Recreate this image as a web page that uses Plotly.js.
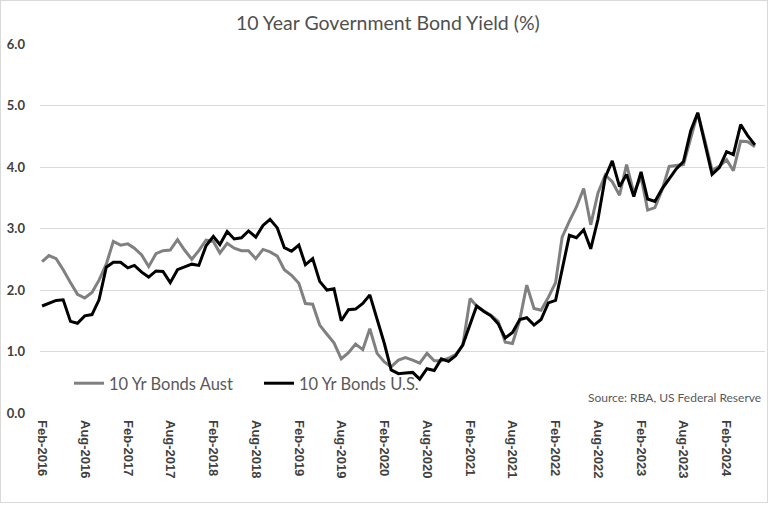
<!DOCTYPE html>
<html>
<head>
<meta charset="utf-8">
<script src="https://cdn.plot.ly/plotly-3.0.1.min.js"></script>
<style>
  html, body { margin: 0; padding: 0; background: #ffffff; }
  #chart { position: absolute; left: 0; top: 0; width: 766px; height: 501px; border: 1px solid #d9d9d9; }
</style>
</head>
<body>
<div id="chart"></div>
<script>
// Month of each observation (end-of-month yields)
const months = [
  "2016-02","2016-03","2016-04","2016-05","2016-06","2016-07","2016-08","2016-09","2016-10","2016-11","2016-12",
  "2017-01","2017-02","2017-03","2017-04","2017-05","2017-06","2017-07","2017-08","2017-09","2017-10","2017-11","2017-12",
  "2018-01","2018-02","2018-03","2018-04","2018-05","2018-06","2018-07","2018-08","2018-09","2018-10","2018-11","2018-12",
  "2019-01","2019-02","2019-03","2019-04","2019-05","2019-06","2019-07","2019-08","2019-09","2019-10","2019-11","2019-12",
  "2020-01","2020-02","2020-03","2020-04","2020-05","2020-06","2020-07","2020-08","2020-09","2020-10","2020-11","2020-12",
  "2021-01","2021-02","2021-03","2021-04","2021-05","2021-06","2021-07","2021-08","2021-09","2021-10","2021-11","2021-12",
  "2022-01","2022-02","2022-03","2022-04","2022-05","2022-06","2022-07","2022-08","2022-09","2022-10","2022-11","2022-12",
  "2023-01","2023-02","2023-03","2023-04","2023-05","2023-06","2023-07","2023-08","2023-09","2023-10","2023-11","2023-12",
  "2024-01","2024-02","2024-03","2024-04","2024-05","2024-06"
];

const bondsAust = [
  2.46,2.56,2.51,2.33,2.12,1.93,1.87,1.96,2.16,2.42,2.79,
  2.73,2.75,2.68,2.57,2.38,2.59,2.64,2.65,2.82,2.65,2.50,2.64,
  2.81,2.79,2.60,2.76,2.68,2.64,2.64,2.51,2.66,2.62,2.55,2.33,
  2.24,2.11,1.78,1.77,1.43,1.28,1.14,0.88,0.98,1.12,1.03,1.37,
  0.97,0.83,0.75,0.86,0.90,0.86,0.81,0.97,0.85,0.85,0.89,0.95,
  1.10,1.86,1.74,1.66,1.59,1.49,1.15,1.13,1.51,2.08,1.70,1.67,
  1.88,2.12,2.86,3.12,3.35,3.65,3.06,3.58,3.87,3.76,3.54,4.04,
  3.58,3.84,3.30,3.34,3.62,4.01,4.03,4.04,4.47,4.88,4.42,3.95,
  4.01,4.12,3.94,4.42,4.41,4.33
];

const bondsUS = [
  1.74,1.78,1.83,1.84,1.49,1.46,1.58,1.60,1.84,2.37,2.45,
  2.45,2.36,2.40,2.29,2.21,2.31,2.30,2.12,2.33,2.38,2.42,2.40,
  2.72,2.87,2.74,2.95,2.83,2.85,2.96,2.86,3.05,3.15,3.01,2.69,
  2.63,2.73,2.41,2.51,2.14,2.00,2.02,1.50,1.68,1.69,1.78,1.92,
  1.51,1.13,0.70,0.64,0.65,0.66,0.55,0.72,0.69,0.88,0.84,0.93,
  1.11,1.44,1.74,1.65,1.58,1.45,1.22,1.31,1.52,1.55,1.43,1.52,
  1.79,1.83,2.32,2.89,2.85,2.98,2.67,3.15,3.83,4.10,3.68,3.88,
  3.52,3.92,3.48,3.44,3.64,3.81,3.97,4.09,4.59,4.88,4.37,3.88,
  3.99,4.25,4.20,4.69,4.51,4.36
];

const tickDates = [
  "2016-02","2016-08","2017-02","2017-08","2018-02","2018-08","2019-02","2019-08",
  "2020-02","2020-08","2021-02","2021-08","2022-02","2022-08","2023-02","2023-08","2024-02"
];
const tickLabels = [
  "Feb-2016","Aug-2016","Feb-2017","Aug-2017","Feb-2018","Aug-2018","Feb-2019","Aug-2019",
  "Feb-2020","Aug-2020","Feb-2021","Aug-2021","Feb-2022","Aug-2022","Feb-2023","Aug-2023","Feb-2024"
];

const yTicks = [0, 1, 2, 3, 4, 5, 6];

const traces = [
  {
    x: months, y: bondsAust, type: 'scatter', mode: 'lines',
    name: '10 Yr Bonds Aust',
    line: { color: '#808080', width: 3 }
  },
  {
    x: months, y: bondsUS, type: 'scatter', mode: 'lines',
    name: '10 Yr Bonds U.S.',
    line: { color: '#000000', width: 3 }
  }
];

const layout = {
  width: 766, height: 501,
  margin: { l: 39, r: 2, t: 43, b: 89 },
  paper_bgcolor: '#ffffff', plot_bgcolor: '#ffffff',
  title: {
    text: '10 Year Government Bond Yield (%)',
    font: { family: 'Lato, "Open Sans", sans-serif', size: 19.5, color: '#505050' },
    x: 0.505, xref: 'container', xanchor: 'center',
    y: 0.956, yref: 'container', yanchor: 'middle'
  },
  xaxis: {
    type: 'date',
    range: ['2016-01-23', '2024-07-14'],
    tickvals: tickDates, ticktext: tickLabels,
    tickangle: 90,
    showgrid: false, zeroline: false, showline: false, ticks: '',
    ticklabelstandoff: 6,
    tickfont: { family: '"Liberation Sans", Arial, sans-serif', size: 13, color: '#404040', weight: 'bold' }
  },
  yaxis: {
    range: [0, 6],
    tickvals: yTicks, tickformat: '.1f',
    showgrid: true, gridcolor: '#d9d9d9', gridwidth: 1,
    zeroline: false, showline: false, ticks: '',
    ticklabelstandoff: 14,
    tickfont: { family: 'Lato, "Liberation Sans", sans-serif', size: 13, color: '#404040', weight: 'bold' }
  },
  showlegend: true,
  legend: {
    orientation: 'h',
    x: 0.040, xanchor: 'left',
    y: 0.08, yanchor: 'middle',
    bgcolor: 'rgba(0,0,0,0)',
    itemwidth: 30,
    entrywidth: 145, entrywidthmode: 'pixels',
    font: { family: 'Lato, "Open Sans", sans-serif', size: 16.5, color: '#595959' }
  },
  annotations: [
    {
      text: 'Source: RBA, US Federal Reserve',
      xref: 'paper', yref: 'paper',
      x: 0.997, xanchor: 'right',
      y: 0.043, yanchor: 'middle',
      showarrow: false,
      font: { family: 'Lato, "Open Sans", sans-serif', size: 12, color: '#595959' }
    }
  ]
};

Plotly.newPlot('chart', traces, layout, { displayModeBar: false, staticPlot: true });
</script>
</body>
</html>
